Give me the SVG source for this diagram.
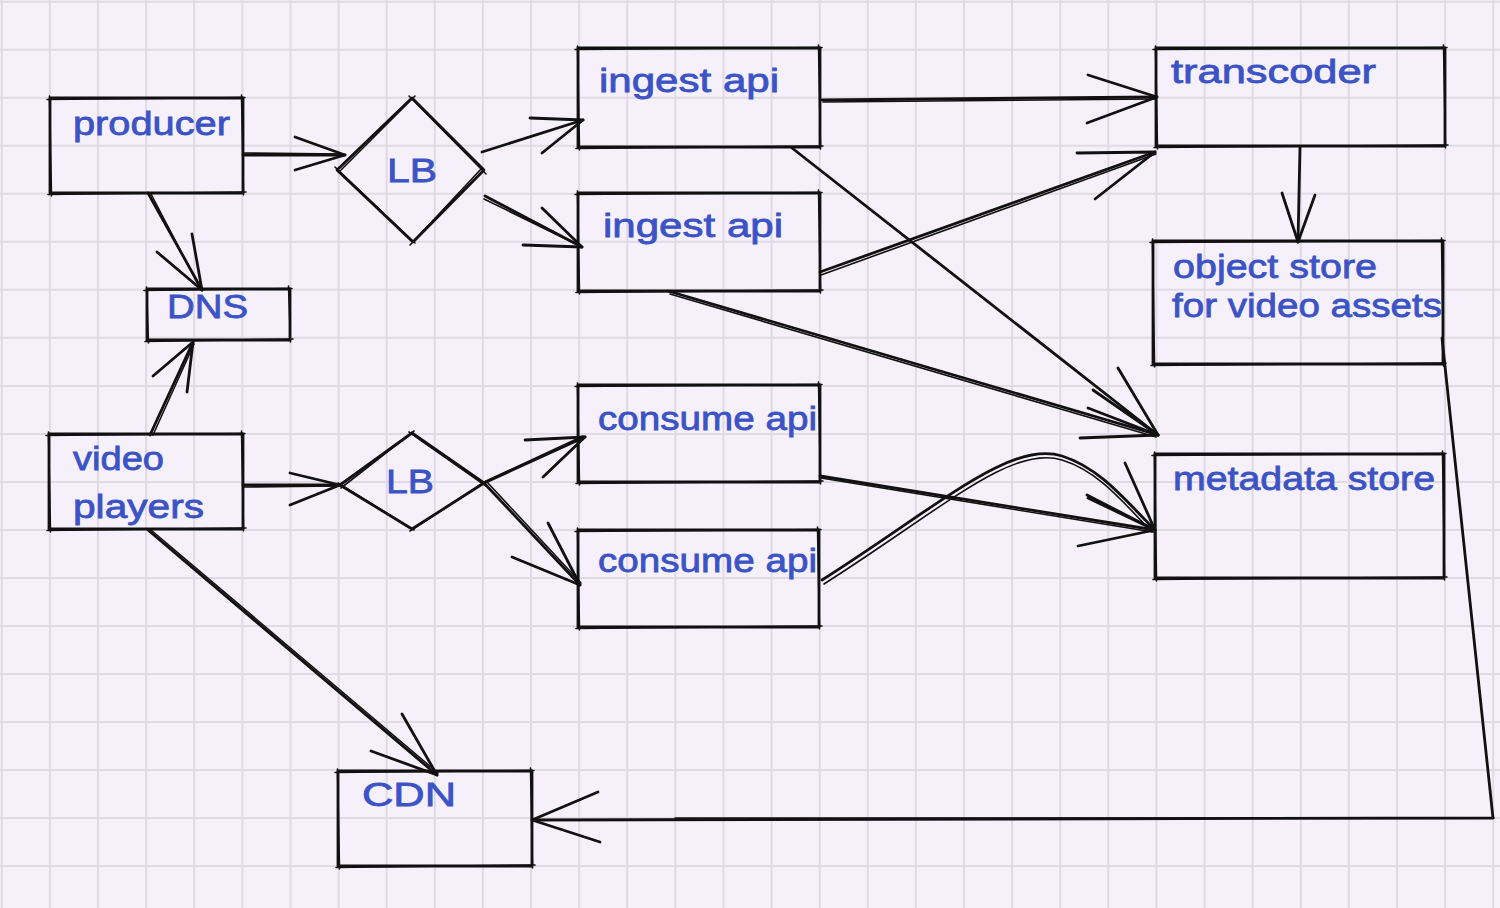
<svg xmlns="http://www.w3.org/2000/svg" width="1500" height="908" viewBox="0 0 1500 908">
<style>
.bg{fill:#f5f0f9}
.grid{fill:none;stroke:#e0dae4;stroke-width:2}
.s{fill:none;stroke:#111;stroke-width:2.8;stroke-linecap:round;stroke-linejoin:round}
.t{fill:none;stroke:#111;stroke-width:1.6;stroke-linecap:round;stroke-linejoin:round}
.lbl{font-family:"Liberation Sans",Arial,sans-serif;font-size:34px;fill:#3b53c5;stroke:#3b53c5;stroke-width:0.8}
</style>
<rect class="bg" x="0" y="0" width="1500" height="908"/>
<path class="grid" d="M1.8 0V908M49.9 0V908M98 0V908M146.1 0V908M194.2 0V908M242.4 0V908M290.5 0V908M338.6 0V908M386.7 0V908M434.8 0V908M482.9 0V908M531 0V908M579.1 0V908M627.2 0V908M675.3 0V908M723.5 0V908M771.6 0V908M819.7 0V908M867.8 0V908M915.9 0V908M964 0V908M1012.1 0V908M1060.2 0V908M1108.3 0V908M1156.4 0V908M1204.6 0V908M1252.7 0V908M1300.8 0V908M1348.9 0V908M1397 0V908M1445.1 0V908M1493.2 0V908M0 1.7H1500M0 49.7H1500M0 97.7H1500M0 145.8H1500M0 193.8H1500M0 241.8H1500M0 289.8H1500M0 337.8H1500M0 385.9H1500M0 433.9H1500M0 481.9H1500M0 529.9H1500M0 577.9H1500M0 626H1500M0 674H1500M0 722H1500M0 770H1500M0 818H1500M0 866.1H1500"/>

<g id="connectors">
<g id="c-producer-lb1"><path class="s" d="M243 155L345 155"/><path class="t" d="M244 153L343 154"/><path class="s" d="M295 137L345 155L295 170"/></g>
<g id="c-lb1-ingest1"><path class="s" d="M482 152L583 120"/><path class="s" d="M530 118L583 120L542 153"/></g>
<g id="c-lb1-ingest2"><path class="s" d="M485 196L582 247"/><path class="t" d="M484 199L580 246"/><path class="s" d="M542 208L582 247L523 245"/></g>
<g id="c-producer-dns"><path class="s" d="M148 193L202 290"/><path class="t" d="M151 194L200 288"/><path class="s" d="M157 252L202 290L192 234"/></g>
<g id="c-video-dns"><path class="s" d="M150 435L193 342"/><path class="t" d="M153 435L194 344"/><path class="s" d="M153 376L193 342L187 392"/></g>
<g id="c-video-lb2"><path class="s" d="M243 485L340 485"/><path class="t" d="M244 487L338 486"/><path class="s" d="M290 473L340 485L290 505"/></g>
<g id="c-lb2-consume1"><path class="s" d="M484 483L585 437"/><path class="t" d="M486 481L583 436"/><path class="s" d="M525 440L585 437L543 477"/></g>
<g id="c-lb2-consume2"><path class="s" d="M484 483L580 585"/><path class="t" d="M487 482L581 583"/><path class="s" d="M548 523L580 585L512 557"/></g>
<g id="c-video-cdn"><path class="s" d="M148 530L437 775"/><path class="t" d="M151 530L438 773"/><path class="s" d="M402 714L437 775L371 751"/></g>
<g id="c-ingest1-transcoder"><path class="s" d="M822 100L1157 97"/><path class="t" d="M823 102L1155 99"/><path class="s" d="M1088 75L1157 97L1087 123"/></g>
<g id="c-ingest2-transcoder"><path class="s" d="M820 272L1155 152"/><path class="t" d="M821 275L1156 154"/><path class="s" d="M1077 153L1155 152L1095 199"/></g>
<g id="c-ingest1-metadata"><path class="s" d="M792 148L1158 435"/><path class="s" d="M1118 368L1158 435L1088 408"/></g>
<g id="c-ingest2-metadata"><path class="s" d="M668 291L1158 435"/><path class="t" d="M670 294L1156 437"/><path class="s" d="M1093 390L1158 435L1080 438"/></g>
<g id="c-consume1-metadata"><path class="s" d="M820 476L1155 530"/><path class="t" d="M821 478L1153 532"/><path class="s" d="M1087 495L1155 530L1078 546"/></g>
<g id="c-consume2-metadata"><path class="s" d="M822 580C940 505 1010 440 1062 456C1100 468 1125 500 1155 530"/><path class="t" d="M824 584C942 509 1012 444 1062 460C1098 471 1122 501 1152 532"/><path class="s" d="M1125 463L1155 530L1088 498"/></g>
<g id="c-transcoder-objectstore"><path class="s" d="M1300 147L1298 242"/><path class="s" d="M1282 193L1298 242L1315 195"/></g>
<g id="c-objectstore-cdn"><path class="s" d="M1442 338L1493 818L532 820"/><path class="t" d="M1494 818L675 818"/><path class="s" d="M598 792L532 820L600 842"/></g>
</g>

<g id="producer"><path class="s" d="M50 98L243 98L243 193L50 193Z"/><path class="t" d="M47 99.5L245 97.5M241.5 95L243.5 195M246 192L48 194.5M51.5 196L49.5 96"/><text class="lbl" x="73" y="135" textLength="157" lengthAdjust="spacingAndGlyphs">producer</text></g>
<g id="dns"><path class="s" d="M147 289L290 289L290 340L147 340Z"/><path class="t" d="M144 290.5L292 288.5M288.5 286L290.5 342M293 339L145 341.5M148.5 343L146.5 287"/><text class="lbl" x="167" y="318" textLength="81" lengthAdjust="spacingAndGlyphs">DNS</text></g>
<g id="video-players"><path class="s" d="M49 434L243 434L243 529L49 529Z"/><path class="t" d="M46 435.5L245 433.5M241.5 431L243.5 531M246 528L47 530.5M50.5 532L48.5 432"/><text class="lbl" x="73" y="470" textLength="91" lengthAdjust="spacingAndGlyphs">video</text><text class="lbl" x="73" y="518" textLength="131" lengthAdjust="spacingAndGlyphs">players</text></g>
<g id="lb1"><path class="s" d="M412 98L484 170L413 242L337 170Z"/><path class="t" d="M409 96L486 174M482 168L410 245M415 243L335 167M339 172L415 96"/><text class="lbl" x="387" y="182" textLength="50" lengthAdjust="spacingAndGlyphs">LB</text></g>
<g id="lb2"><path class="s" d="M412 433L484 483L412 529L340 485Z"/><path class="t" d="M409 432L486 486M486 481L410 531M414 530L338 483M341 488L414 431"/><text class="lbl" x="386" y="493" textLength="48" lengthAdjust="spacingAndGlyphs">LB</text></g>
<g id="ingest-api-1"><path class="s" d="M578 48L820 48L820 147L578 147Z"/><path class="t" d="M575 49.5L822 47.5M818.5 45L820.5 149M823 146L576 148.5M579.5 150L577.5 46"/><text class="lbl" x="599" y="92" textLength="180" lengthAdjust="spacingAndGlyphs">ingest api</text></g>
<g id="ingest-api-2"><path class="s" d="M578 193L820 193L820 291L578 291Z"/><path class="t" d="M575 194.5L822 192.5M818.5 190L820.5 293M823 290L576 292.5M579.5 294L577.5 191"/><text class="lbl" x="603" y="237" textLength="180" lengthAdjust="spacingAndGlyphs">ingest api</text></g>
<g id="consume-api-1"><path class="s" d="M578 385L820 385L820 482L578 482Z"/><path class="t" d="M575 386.5L822 384.5M818.5 382L820.5 484M823 481L576 483.5M579.5 485L577.5 383"/><text class="lbl" x="598" y="430" textLength="219" lengthAdjust="spacingAndGlyphs">consume api</text></g>
<g id="consume-api-2"><path class="s" d="M578 530L819 530L819 627L578 627Z"/><path class="t" d="M575 531.5L821 529.5M817.5 527L819.5 629M822 626L576 628.5M579.5 630L577.5 528"/><text class="lbl" x="598" y="572" textLength="219" lengthAdjust="spacingAndGlyphs">consume api</text></g>
<g id="transcoder"><path class="s" d="M1156 48L1445 48L1445 146L1156 146Z"/><path class="t" d="M1153 49.5L1447 47.5M1443.5 45L1445.5 148M1448 145L1154 147.5M1157.5 149L1155.5 46"/><text class="lbl" x="1171" y="83" textLength="205" lengthAdjust="spacingAndGlyphs">transcoder</text></g>
<g id="object-store"><path class="s" d="M1153 241L1443 241L1443 364L1153 364Z"/><path class="t" d="M1150 242.5L1445 240.5M1441.5 238L1443.5 366M1446 363L1151 365.5M1154.5 367L1152.5 239"/><text class="lbl" x="1173" y="278" textLength="204" lengthAdjust="spacingAndGlyphs">object store</text><text class="lbl" x="1172" y="317" textLength="270" lengthAdjust="spacingAndGlyphs">for video assets</text></g>
<g id="metadata-store"><path class="s" d="M1155 454L1444 454L1444 578L1155 578Z"/><path class="t" d="M1152 455.5L1446 453.5M1442.5 451L1444.5 580M1447 577L1153 579.5M1156.5 581L1154.5 452"/><text class="lbl" x="1173" y="490" textLength="262" lengthAdjust="spacingAndGlyphs">metadata store</text></g>
<g id="cdn"><path class="s" d="M338 771L532 771L532 866L338 866Z"/><path class="t" d="M335 772.5L534 770.5M530.5 768L532.5 868M535 865L336 867.5M339.5 869L337.5 769"/><text class="lbl" x="362" y="806" textLength="94" lengthAdjust="spacingAndGlyphs">CDN</text></g>
</svg>
